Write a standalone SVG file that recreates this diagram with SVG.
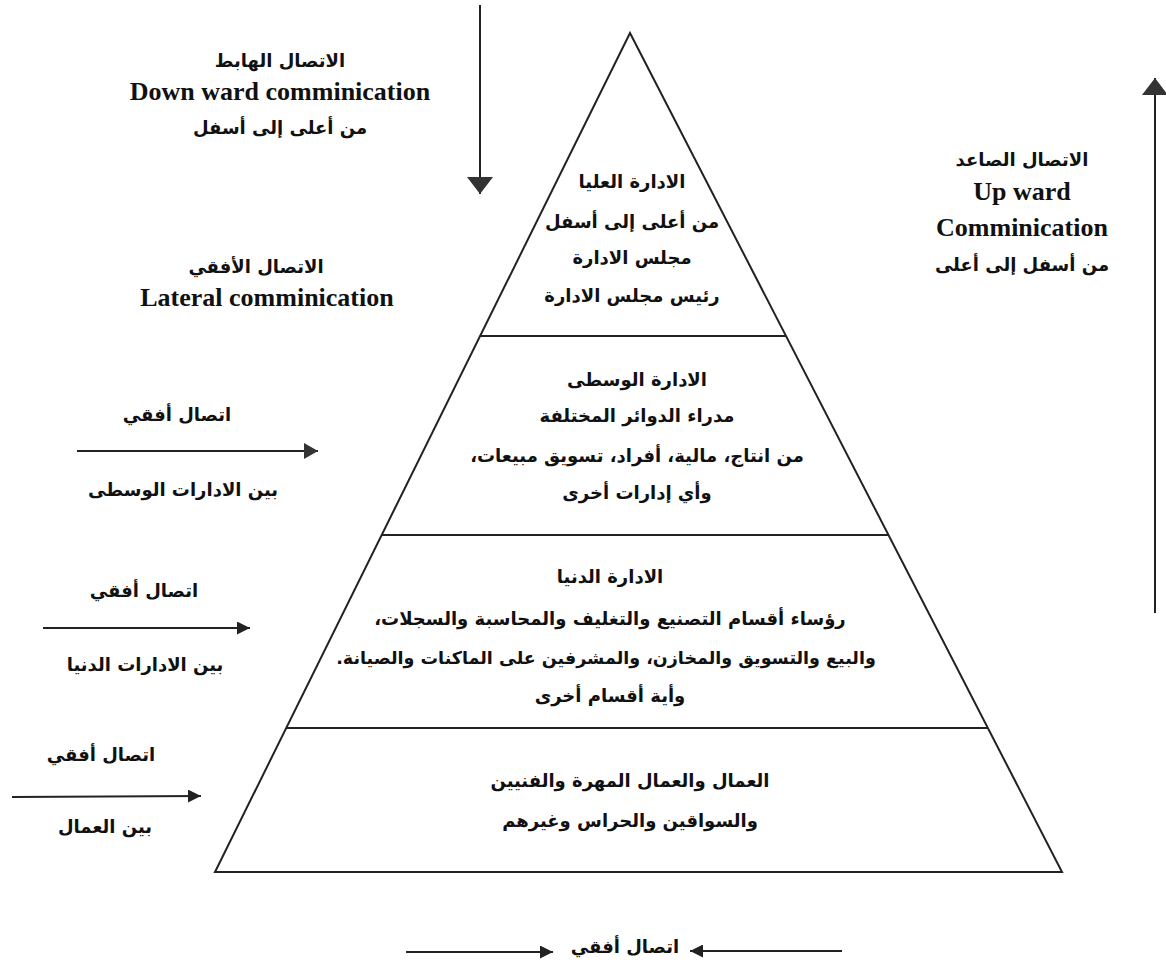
<svg xmlns="http://www.w3.org/2000/svg" width="1166" height="967" viewBox="0 0 1166 967">
<style>
.ar{font-family:"DejaVu Sans","Noto Sans",sans-serif;font-weight:bold;font-size:18px;fill:#111;text-anchor:middle;direction:rtl}
.en{font-family:"Liberation Serif","Times New Roman",serif;font-weight:bold;font-size:26px;fill:#111;text-anchor:middle}
.ln{stroke:#222;stroke-width:2;fill:none}
.arr{stroke:#222;stroke-width:2;fill:none}
</style>
<defs>
<marker id="ah" viewBox="0 0 10 10" refX="10" refY="5" markerWidth="13" markerHeight="13" markerUnits="userSpaceOnUse" orient="auto">
<path d="M0,0 L10,5 L0,10 Z" fill="#222"/>
</marker>
<marker id="ahMid" viewBox="0 0 10 10" refX="10" refY="5" markerWidth="14" markerHeight="16" markerUnits="userSpaceOnUse" orient="auto" preserveAspectRatio="none">
<path d="M0,0 L10,5 L0,10 Z" fill="#333"/>
</marker>
<marker id="ahBig" viewBox="0 0 10 10" refX="10" refY="5" markerWidth="17" markerHeight="26" markerUnits="userSpaceOnUse" orient="auto" preserveAspectRatio="none">
<path d="M0,0 L10,5 L0,10 Z" fill="#333"/>
</marker>
</defs>
<rect width="1166" height="967" fill="#fff"/>

<g id="pyramid">
<polygon class="ln" points="630,33 1062,872 215,872"/>
</g>

<g id="level-top">
<line class="ln" x1="480" y1="336" x2="786" y2="336"/>
<text class="ar" x="632" y="188">الادارة العليا</text>
<text class="ar" x="632" y="228">من أعلى إلى أسفل</text>
<text class="ar" x="632" y="264">مجلس الادارة</text>
<text class="ar" x="632" y="302">رئيس مجلس الادارة</text>
</g>

<g id="level-middle">
<line class="ln" x1="382" y1="535" x2="888" y2="535"/>
<text class="ar" x="637" y="386">الادارة الوسطى</text>
<text class="ar" x="637" y="422">مدراء الدوائر المختلفة</text>
<text class="ar" x="637" y="462">من انتاج، مالية، أفراد، تسويق مبيعات،</text>
<text class="ar" x="637" y="499">وأي إدارات أخرى</text>
</g>

<g id="level-lower">
<line class="ln" x1="286" y1="728" x2="988" y2="728"/>
<text class="ar" x="610" y="583">الادارة الدنيا</text>
<text class="ar" x="610" y="625">رؤساء أقسام التصنيع والتغليف والمحاسبة والسجلات،</text>
<text class="ar" x="606" y="664" style="font-size:17.5px">والبيع والتسويق والمخازن، والمشرفين على الماكنات والصيانة.</text>
<text class="ar" x="610" y="702">وأية أقسام أخرى</text>
</g>

<g id="level-workers">
<text class="ar" x="630" y="787">العمال والعمال المهرة والفنيين</text>
<text class="ar" x="630" y="827">والسواقين والحراس وغيرهم</text>
</g>

<g id="label-downward">
<text class="ar" x="280" y="67">الاتصال الهابط</text>
<text class="en" x="280" y="100">Down ward comminication</text>
<text class="ar" x="280" y="134">من أعلى إلى أسفل</text>
</g>

<g id="label-lateral">
<text class="ar" x="256" y="273">الاتصال الأفقي</text>
<text class="en" x="267" y="306">Lateral comminication</text>
</g>

<g id="label-upward">
<text class="ar" x="1022" y="166">الاتصال الصاعد</text>
<text class="en" x="1022" y="200">Up ward</text>
<text class="en" x="1022" y="236">Comminication</text>
<text class="ar" x="1022" y="271">من أسفل إلى أعلى</text>
</g>

<g id="label-lateral-middle">
<text class="ar" x="177" y="421">اتصال أفقي</text>
<text class="ar" x="183" y="496">بين الادارات الوسطى</text>
</g>

<g id="label-lateral-lower">
<text class="ar" x="144" y="597">اتصال أفقي</text>
<text class="ar" x="145" y="671">بين الادارات الدنيا</text>
</g>

<g id="label-lateral-workers">
<text class="ar" x="101" y="761">اتصال أفقي</text>
<text class="ar" x="105" y="833">بين العمال</text>
</g>

<g id="label-lateral-bottom">
<text class="ar" x="625" y="953">اتصال أفقي</text>
</g>

<g id="connectors">
<line class="arr" x1="480" y1="5" x2="480" y2="194" marker-end="url(#ahBig)"/>
<line class="arr" x1="1155" y1="613" x2="1155" y2="78" marker-end="url(#ahBig)"/>
<line class="arr" x1="77" y1="451" x2="318" y2="451" marker-end="url(#ahMid)"/>
<line class="arr" x1="43" y1="628" x2="250" y2="628" marker-end="url(#ah)"/>
<line class="arr" x1="12" y1="797" x2="201" y2="796" marker-end="url(#ah)"/>
<line class="arr" x1="406" y1="952" x2="553" y2="952" marker-end="url(#ah)"/>
<line class="arr" x1="842" y1="951" x2="690" y2="951" marker-end="url(#ah)"/>
</g>
</svg>
